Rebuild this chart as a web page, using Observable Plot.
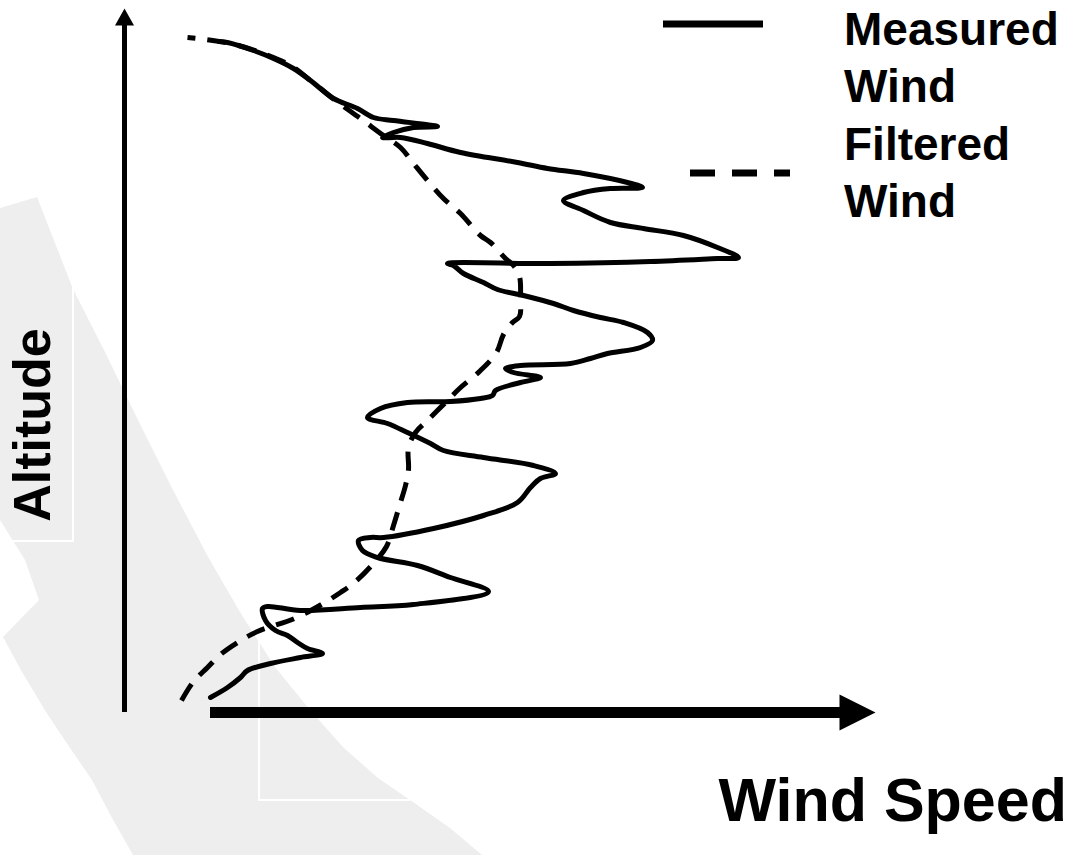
<!DOCTYPE html>
<html>
<head>
<meta charset="utf-8">
<script src="https://cdn.jsdelivr.net/npm/d3@7"></script>
<script src="https://cdn.jsdelivr.net/npm/@observablehq/plot@0.6"></script>
<style>
  html, body { margin: 0; padding: 0; background: #fff; }
  #wrap { position: relative; width: 1068px; height: 855px; overflow: hidden; font-family: "Liberation Sans", Arial, Helvetica, sans-serif; font-weight: bold; color: #000; }
  #watermark { position: absolute; left: 0; top: 0; width: 1068px; height: 855px; background: #eeeeee;
    clip-path: polygon(0px 208px, 37px 197px, 73px 289px, 105px 352px, 138px 420px, 172px 488px, 207px 555px, 240px 612px, 275px 667px, 310px 710px, 344px 748px, 378px 778px, 413px 802px, 450px 828px, 482px 855px, 133px 855px, 112px 818px, 92px 780px, 68px 745px, 46px 712px, 22px 672px, 3px 637px, 39px 600px, 25px 560px, 0px 520px); }
  .wline { position: absolute; background: #fff; }
  #chart { position: absolute; left: 0; top: 0; }
  #chart svg { background: transparent !important; overflow: visible; }
  .legend { position: absolute; left: 844px; top: 1px; font-size: 46px; line-height: 57.3px; white-space: nowrap; }
  .ylab { position: absolute; left: 32px; top: 425px; font-size: 52px; line-height: 52px; white-space: nowrap; transform: translate(-50%, -50%) rotate(-90deg); }
  .xlab { position: absolute; right: 1px; top: 770px; font-size: 61px; line-height: 61px; white-space: nowrap; }
  #legendSamples { position: absolute; left: 0; top: 0; }
</style>
</head>
<body>
<div id="wrap">
  <div id="watermark"></div>
  <div class="wline" style="left:72px; top:285px; width:2px; height:257px;"></div>
  <div class="wline" style="left:11px; top:540px; width:63px; height:2px;"></div>
  <div class="wline" style="left:258px; top:636px; width:2px; height:165px;"></div>
  <div class="wline" style="left:258px; top:799px; width:152px; height:2px;"></div>
  <div id="chart"></div>
  <svg id="legendSamples" width="1068" height="855">
    <line x1="663" y1="24" x2="763" y2="24" stroke="#000" stroke-width="7"></line>
    <line x1="690" y1="173" x2="790" y2="173" stroke="#000" stroke-width="7" stroke-dasharray="25,17"></line>
  </svg>
  <div class="legend">Measured<br>Wind<br>Filtered<br>Wind</div>
  <div class="ylab">Altitude</div>
  <div class="xlab">Wind Speed</div>
</div>
<script>
const measuredSpeed = [3.0,4.7,6.0,6.7,9.0,12.0,14.2,12.7,11.7,10.7,
  9.5,8.5,8.2,8.7,12.0,18.0,23.3,30.8,27.0,23.7,
  19.7,18.2,17.8,19.0,20.3,25.3,30.3,33.7,35.0,36.0,
  37.5,35.3,30.3,26.3,25.0,22.7,20.7,18.7,20.0,22.7,
  27.0,30.0,31.2,31.5,34.0,36.0,33.3,32.5,34.0,39.0,
  41.0,42.7,46.0,47.2,46.7,44.3,42.0,39.3,37.3,34.3,
  31.7,30.3,28.3,27.3,26.7,37.0,47.0,53.7,55.8,53.7,
  50.3,46.3,43.0,40.3,38.3,40.3,43.0,46.2,44.7,40.3,
  36.7,33.7,28.0,24.7,22.0,20.2,21.3,23.3,25.7,21.3,
  19.3,17.7,15.3,14.0,13.0,11.3,9.3,7.3,4.7,3.8];
const measuredAltitude = [1.5,2.5,3.5,4.2,4.9,5.5,5.9,6.4,7.0,7.7,
  8.2,9.2,10.4,10.6,10.2,10.5,10.8,12.1,13.5,14.7,
  15.5,16.2,17.2,17.5,17.5,18.4,19.7,21.0,22.5,23.4,
  23.9,24.7,25.5,26.2,26.9,28.0,28.9,29.5,30.4,31.0,
  31.1,31.4,31.7,32.2,33.0,33.5,34.0,34.4,34.7,34.9,
  35.4,35.9,36.5,37.2,38.0,39.0,39.5,40.2,40.9,41.7,
  42.3,43.0,43.9,44.7,44.9,44.9,45.1,45.4,45.5,46.5,
  47.7,48.4,49.0,50.2,51.2,52.0,52.4,52.5,53.0,53.9,
  54.4,55.0,56.0,56.9,57.5,57.5,58.0,58.5,58.6,59.2,
  59.5,60.4,61.4,62.4,63.2,64.4,65.4,66.2,67.0,67.1];

// Filtered wind profile
const filteredSpeed = [0.1,1.3,2.7,4.0,5.7,7.7,11.4,14.1,16.0,17.4,
  19.2,20.6,21.3,21.9,22.5,22.8,22.8,23.5,24.7,26.5,
  27.9,30.0,31.6,32.3,33.2,33.9,34.0,33.9,33.3,32.5,
  31.0,30.0,28.0,26.3,24.7,23.3,22.0,20.3,18.0,15.5,
  13.0,11.0,8.0,5.0,2.5,0.7];
const filteredAltitude = [1.2,3.1,4.5,5.8,7.0,8.1,9.4,10.8,12.0,13.0,
  14.8,16.6,18.7,20.7,22.7,24.3,26.5,28.0,29.2,31.0,
  32.4,34.2,36.0,37.8,39.0,39.6,41.5,43.6,44.7,45.4,
  47.0,47.7,49.9,51.4,53.2,54.9,56.5,57.7,59.4,61.2,
  63.2,64.7,66.0,66.9,67.3,67.5];

// Axis arrows (data units)
const speedAxis = {at: 0, from: 3.0, to: 69.5, head: 3.6, halfWidth: 1.8};
const altitudeAxis = {at: -5.6, from: 0, to: 70.4, head: 1.7, halfWidth: 0.95};

const measured = measuredSpeed.map((s, i) => ({speed: s, altitude: measuredAltitude[i]}));
const filtered = filteredSpeed.map((s, i) => ({speed: s, altitude: filteredAltitude[i]}));

const xHead = [
  {speed: speedAxis.to - speedAxis.head, altitude: speedAxis.at + speedAxis.halfWidth},
  {speed: speedAxis.to, altitude: speedAxis.at},
  {speed: speedAxis.to - speedAxis.head, altitude: speedAxis.at - speedAxis.halfWidth},
  {speed: speedAxis.to - speedAxis.head, altitude: speedAxis.at + speedAxis.halfWidth}
];
const yHead = [
  {speed: altitudeAxis.at - altitudeAxis.halfWidth, altitude: altitudeAxis.to - altitudeAxis.head},
  {speed: altitudeAxis.at, altitude: altitudeAxis.to},
  {speed: altitudeAxis.at + altitudeAxis.halfWidth, altitude: altitudeAxis.to - altitudeAxis.head},
  {speed: altitudeAxis.at - altitudeAxis.halfWidth, altitude: altitudeAxis.to - altitudeAxis.head}
];

const chart = Plot.plot({
  width: 1068,
  height: 855,
  marginTop: 0, marginRight: 0, marginBottom: 0, marginLeft: 0,
  style: {background: "transparent", overflow: "visible"},
  x: {domain: [-18, 88.8], axis: null},
  y: {domain: [-14.3, 71.2], axis: null},
  marks: [
    // x axis arrow
    Plot.ruleY([speedAxis], {y: "at", x1: "from", x2: d => d.to - d.head + 0.3, stroke: "#000", strokeWidth: 11}),
    Plot.line(xHead, {x: "speed", y: "altitude", fill: "#000", stroke: "none"}),
    // y axis arrow
    Plot.ruleX([altitudeAxis], {x: "at", y1: "from", y2: d => d.to - d.head + 0.3, stroke: "#000", strokeWidth: 5}),
    Plot.line(yHead, {x: "speed", y: "altitude", fill: "#000", stroke: "none"}),
    // filtered wind
    Plot.line(filtered, {x: "speed", y: "altitude", stroke: "#000", strokeWidth: 5, strokeDasharray: "19,12", curve: "catmull-rom", strokeLinecap: "butt"}),
    // measured wind
    Plot.line(measured, {x: "speed", y: "altitude", stroke: "#000", strokeWidth: 5, curve: "catmull-rom", strokeLinejoin: "round", strokeLinecap: "round"})
  ]
});
document.getElementById("chart").appendChild(chart);
</script>
</body>
</html>
